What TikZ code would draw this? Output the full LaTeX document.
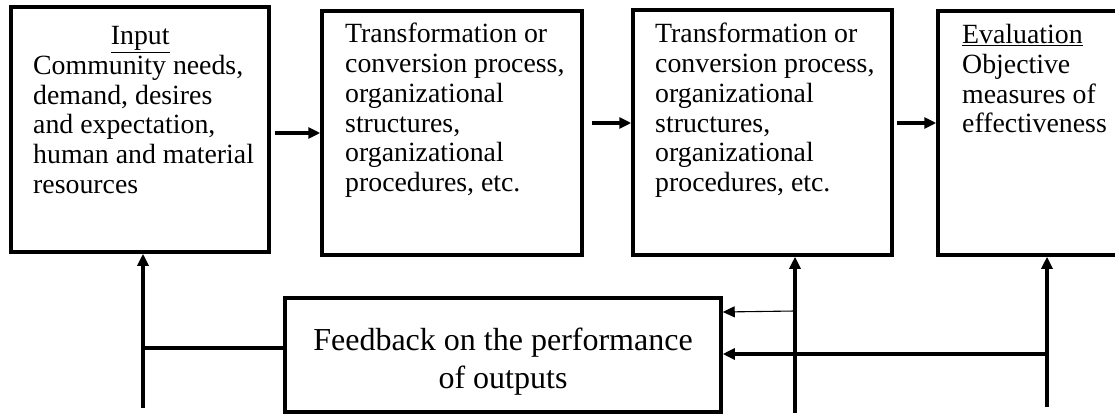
\documentclass[tikz,border=0pt]{standalone}
\usepackage{fontspec}
\setmainfont{Liberation Serif}
\usetikzlibrary{arrows.meta}
\begin{document}
\begin{tikzpicture}[x=1pt,y=-1pt,
  box/.style={draw,line width=3.5pt,inner sep=0pt},
  boxtext/.style={anchor=north west,inner sep=0pt,align=left,
    font=\fontsize{27.8}{29.8}\selectfont},
  arr/.style={line width=3.2pt,-{Triangle[length=12pt,width=11pt]}},
  thinarr/.style={line width=1.1pt,-{Triangle[length=12pt,width=11pt]}},
  ln/.style={line width=3.2pt}]
\useasboundingbox (0,0) rectangle (1115,414);
% boxes
\node[box,minimum width=258pt,minimum height=245pt] (b1) at (140,129.5) {};
\node[box,minimum width=260pt,minimum height=244pt] (b2) at (452,133) {};
\node[box,minimum width=259pt,minimum height=245pt] (b3) at (762.5,132.5) {};
\node[box,minimum width=187pt,minimum height=244pt] (b4) at (1031.5,133) {};
\node[box,minimum width=436pt,minimum height=114pt] (fb) at (503,355) {};
% texts
\node[boxtext] (t1) at (33,26)
  {\makebox[214pt]{\underline{Input}}\\Community needs,\\demand, desires\\and expectation,\\human and material\\resources};
\node[boxtext] (t2) at (345,23)
  {Transformation or\\conversion process,\\organizational\\structures,\\organizational\\procedures, etc.};
\node[boxtext] (t3) at (655,23)
  {Transformation or\\conversion process,\\organizational\\structures,\\organizational\\procedures, etc.};
\node[boxtext] (t4) at (962,24)
  {\underline{Evaluation}\\Objective\\measures of\\effectiveness};
\node[align=center,inner sep=0pt,font=\fontsize{32}{38}\selectfont] (tf) at (503,362)
  {Feedback on the performance\\of outputs};
% forward arrows
\draw[arr] ([xshift=4pt]b1.east |- 0,133) -- (b2.west |- 0,133);
\draw[arr] ([xshift=8pt]b2.east |- 0,123) -- (b3.west |- 0,123);
\draw[arr] ([xshift=3pt]b3.east |- 0,123) -- (b4.west |- 0,123);
% feedback paths
\coordinate (l0) at (143,408);
\coordinate (l1) at (143,348);
\draw[arr] (l0) -- (b1.south -| l0);
\draw[ln] (fb.west |- l1) -- (l1);
\coordinate (m0) at (795,413);
\coordinate (m1) at (795,311);
\draw[arr] (m0) -- (b3.south -| m0);
\draw[thinarr] (m1) -- (fb.east |- 0,312);
\coordinate (r0) at (1047,407);
\coordinate (r1) at (1047,354);
\draw[arr] (r0) -- (b4.south -| r0);
\draw[arr] (r1) -- (fb.east |- r1);
\end{tikzpicture}
\end{document}
